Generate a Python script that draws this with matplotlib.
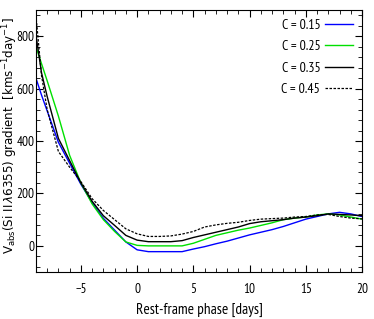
import matplotlib
matplotlib.use("Agg")
import matplotlib.pyplot as plt
from matplotlib.ticker import MultipleLocator

phase = [-9, -8.5, -8, -7, -6, -5, -4, -3, -2, -1, 0, 1, 2, 3, 4, 5, 6, 7, 8, 9, 10,
         11, 12, 13, 14, 15, 16, 17, 18, 19, 20]

grad_015 = [640, 575, 515, 395, 315, 235, 165, 105, 60, 15, -15, -22, -22, -22, -22, -12,
            -3, 8, 18, 30, 42, 52, 62, 74, 88, 102, 112, 122, 128, 122, 112]
grad_025 = [760, 695, 630, 495, 345, 240, 160, 100, 55, 15, 2, 0, 0, 0, 0, 10,
            25, 40, 50, 60, 68, 78, 88, 100, 106, 110, 118, 122, 118, 110, 102]
grad_035 = [805, 660, 570, 410, 325, 240, 170, 115, 78, 40, 22, 16, 16, 16, 20, 32,
            42, 52, 62, 72, 85, 92, 96, 100, 106, 110, 115, 122, 120, 118, 115]
grad_045 = [880, 650, 520, 360, 300, 245, 180, 135, 100, 65, 46, 36, 36, 38, 45, 55,
            72, 80, 86, 90, 97, 102, 104, 106, 110, 112, 118, 120, 112, 106, 103]

labels = ["C = 0.15", "C = 0.25", "C = 0.35", "C = 0.45"]

narrow = ["PT Sans Narrow", "DejaVu Sans"]

fig = plt.figure(figsize=(3.74, 3.19), dpi=100)
ax = fig.add_axes([0.096, 0.147, 0.872, 0.822])

ax.plot(phase, grad_015, color="#0000ff", lw=1.0, label=labels[0])
ax.plot(phase, grad_025, color="#00e000", lw=1.0, label=labels[1])
ax.plot(phase, grad_035, color="black", lw=1.0, label=labels[2])
ax.plot(phase, grad_045, color="black", lw=0.9, ls=(0, (2, 1.2)), label=labels[3])

ax.set_xlim(-9, 20)
ax.set_ylim(-100, 900)
ax.xaxis.set_major_locator(MultipleLocator(5))
ax.xaxis.set_minor_locator(MultipleLocator(1))
ax.yaxis.set_major_locator(MultipleLocator(200))
ax.yaxis.set_minor_locator(MultipleLocator(40))
ax.tick_params(which="both", direction="in", top=True, right=True)
ax.tick_params(which="major", length=5, width=0.8)
ax.tick_params(which="minor", length=3, width=0.6)
ax.tick_params(axis="x", pad=8)
ax.tick_params(axis="y", pad=1)
for lab in ax.get_xticklabels() + ax.get_yticklabels():
    lab.set_fontfamily(narrow)
    lab.set_fontsize(9.5)

ax.set_xlabel("Rest-frame phase [days]", fontfamily=narrow, fontsize=11, labelpad=5)
ax.set_ylabel(r"V$_{\rm abs}$(Si II$\,\lambda$6355) gradient  [kms$^{-1}$day$^{-1}$]",
              fontsize=8.6)
ax.yaxis.set_label_coords(-0.05, 0.52)

leg = ax.legend(loc="upper right", frameon=False, markerfirst=False,
                prop={"family": narrow, "size": 10}, handlelength=2.0,
                labelspacing=0.6, borderaxespad=0.25, handletextpad=0.35)

fig.savefig("out.png", dpi=100)
